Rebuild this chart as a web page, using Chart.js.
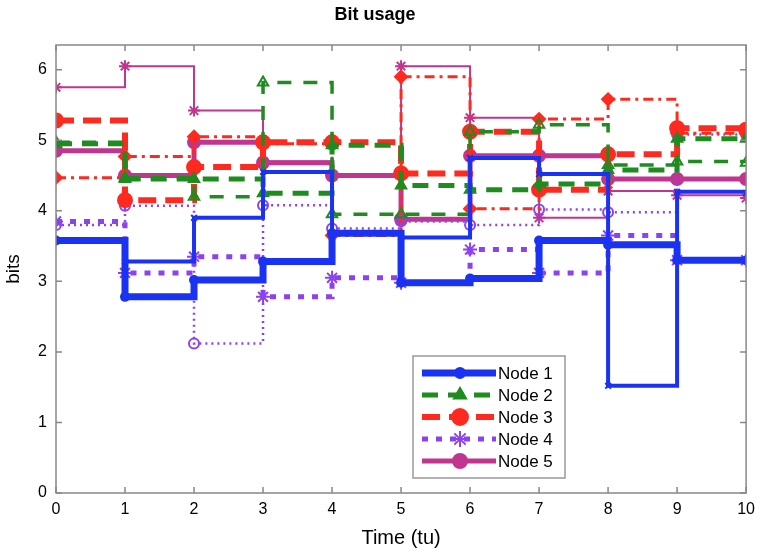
<!DOCTYPE html>
<html lang="en">
<head>
    <meta charset="UTF-8">
    <title>Bit usage</title>
    <script src="https://cdn.jsdelivr.net/npm/chart.js"></script>
    <style>
        body {
            margin: 0;
            padding: 0;
            background-color: #fff;
        }
        .chart-box {
            width: 762px;
            height: 554px;
        }
    </style>
</head>
<body>
    <div class="chart-box">
        <canvas id="bits-chart"></canvas>
    </div>

    <script>
        // time steps (tu) and tick values
        var timeSteps = [0, 1, 2, 3, 4, 5, 6, 7, 8, 9, 10];
        var yTicks = [0, 1, 2, 3, 4, 5, 6];

        // bits per node, thick line and thin line for each node
        var node1Main = [3.58, 2.78, 3.02, 3.28, 3.68, 2.98, 3.04, 3.58, 3.52, 3.30, 3.30];
        var node1Alt  = [3.58, 3.28, 3.90, 4.55, 3.68, 3.62, 4.75, 4.52, 1.52, 4.27, 4.25];
        var node2Main = [4.95, 4.45, 4.45, 4.25, 4.93, 4.36, 4.30, 4.38, 4.58, 5.02, 5.02];
        var node2Alt  = [4.97, 4.47, 4.20, 5.82, 3.95, 3.95, 5.12, 5.22, 4.65, 4.70, 4.68];
        var node3Main = [5.28, 4.15, 4.62, 4.97, 4.97, 4.53, 5.12, 4.30, 4.80, 5.17, 5.15];
        var node3Alt  = [4.47, 4.77, 5.05, 4.95, 3.65, 5.90, 4.03, 5.30, 5.58, 5.10, 5.10];
        var node4Main = [3.85, 3.12, 3.35, 2.78, 3.05, 2.98, 3.45, 3.12, 3.65, 3.30, 3.30];
        var node4Alt  = [3.80, 4.07, 2.12, 4.08, 3.75, 3.85, 3.80, 4.02, 3.98, 5.08, 5.08];
        var node5Main = [4.85, 4.50, 4.97, 4.68, 4.50, 3.88, 4.78, 4.78, 4.45, 4.45, 4.45];
        var node5Alt  = [5.75, 6.05, 5.42, 4.70, 4.50, 6.05, 5.32, 3.90, 4.28, 4.22, 4.18];

        var blue = '#1a33f2';
        var green = '#1e8c1e';
        var red = '#ff2a1f';
        var purple = '#8c42ee';
        var magenta = '#c0368f';

        var fontFamily = 'Arial, "Liberation Sans", sans-serif';

        function toPoints(values) {
            return values.map(function(v, i) { return {x: timeSteps[i], y: v}; });
        }

        function stairs(label, values, color, width, dash, marker, radius, fill, legend) {
            return {
                label: label,
                data: toPoints(values),
                stepped: 'before',
                borderColor: color,
                backgroundColor: fill ? color : 'rgba(255,255,255,0)',
                borderWidth: width,
                borderDash: dash,
                pointStyle: marker,
                pointRadius: radius,
                pointBorderWidth: 2,
                pointBorderColor: color,
                pointBackgroundColor: fill ? color : 'rgba(255,255,255,0)',
                fill: false,
                inLegend: legend
            };
        }

        var datasets = [
            stairs('Node 1', node1Main, blue, 7, [], 'circle', 4, true, true),
            stairs('Node 1 b', node1Alt, blue, 4, [], 'crossRot', 4, false, false),
            stairs('Node 2', node2Main, green, 5, [16, 10], 'triangle', 6, true, true),
            stairs('Node 2 b', node2Alt, green, 3.5, [14, 12], 'triangle', 6, false, false),
            stairs('Node 3', node3Main, red, 6, [18, 9], 'circle', 7, true, true),
            stairs('Node 3 b', node3Alt, red, 3, [10, 5, 3, 5], 'rectRot', 6, true, false),
            stairs('Node 4', node4Main, purple, 5, [6, 8], 'star', 7, false, true),
            stairs('Node 4 b', node4Alt, purple, 2.5, [2, 4], 'circle', 5, false, false),
            stairs('Node 5', node5Main, magenta, 5, [], 'circle', 6, true, true),
            stairs('Node 5 b', node5Alt, magenta, 2, [], 'star', 6, false, false)
        ];

        // box, inward ticks (MATLAB look) and legend inside the plot
        var matlabFrame = {
            id: 'matlabFrame',
            afterDatasetsDraw: function(chart) {
                var ctx = chart.ctx;
                var area = chart.chartArea;
                var xs = chart.scales.x, ys = chart.scales.y;
                ctx.save();
                ctx.strokeStyle = '#888';
                ctx.lineWidth = 1.5;
                ctx.strokeRect(area.left, area.top, area.right - area.left, area.bottom - area.top);
                ctx.beginPath();
                timeSteps.forEach(function(v) {
                    var px = xs.getPixelForValue(v);
                    ctx.moveTo(px, area.bottom); ctx.lineTo(px, area.bottom - 6);
                    ctx.moveTo(px, area.top); ctx.lineTo(px, area.top + 6);
                });
                yTicks.forEach(function(v) {
                    var py = ys.getPixelForValue(v);
                    ctx.moveTo(area.left, py); ctx.lineTo(area.left + 6, py);
                    ctx.moveTo(area.right, py); ctx.lineTo(area.right - 6, py);
                });
                ctx.stroke();

                // legend box
                var bx = 413, by = 356, bw = 152, bh = 122;
                ctx.fillStyle = '#fff';
                ctx.fillRect(bx, by, bw, bh);
                ctx.strokeStyle = '#999';
                ctx.lineWidth = 1.5;
                ctx.strokeRect(bx, by, bw, bh);
                var rowY = by + 17;
                ctx.font = '17px ' + fontFamily;
                ctx.textBaseline = 'middle';
                chart.data.datasets.forEach(function(ds) {
                    if (!ds.inLegend) return;
                    ctx.save();
                    ctx.strokeStyle = ds.borderColor;
                    ctx.lineWidth = ds.borderWidth;
                    ctx.setLineDash(ds.borderDash);
                    ctx.beginPath();
                    ctx.moveTo(bx + 9, rowY);
                    ctx.lineTo(bx + 83, rowY);
                    ctx.stroke();
                    ctx.setLineDash([]);
                    ctx.fillStyle = ds.pointBackgroundColor;
                    ctx.strokeStyle = ds.pointBorderColor;
                    ctx.lineWidth = 2;
                    Chart.helpers.drawPoint(ctx, {
                        pointStyle: ds.pointStyle,
                        radius: ds.pointRadius + 1,
                        rotation: 0,
                        borderWidth: 2
                    }, bx + 47, rowY);
                    ctx.restore();
                    ctx.fillStyle = '#000';
                    ctx.fillText(ds.label, bx + 85, rowY + 1);
                    rowY += 22;
                });
                ctx.restore();
            }
        };

        var ctx = document.getElementById('bits-chart').getContext('2d');
        new Chart(ctx, {
            type: 'line',
            data: { datasets: datasets },
            options: {
                responsive: true,
                maintainAspectRatio: false,
                animation: false,
                layout: { padding: { left: 0, right: 12, top: 0, bottom: 0 } },
                plugins: {
                    legend: { display: false },
                    tooltip: { enabled: false },
                    title: {
                        display: true,
                        text: 'Bit usage',
                        color: '#000',
                        font: { family: fontFamily, size: 18, weight: 'bold' },
                        padding: { top: 4, bottom: 19.4 }
                    }
                },
                scales: {
                    x: {
                        type: 'linear',
                        min: 0,
                        max: 10,
                        grid: { display: false, drawTicks: false },
                        border: { display: false },
                        ticks: {
                            stepSize: 1,
                            color: '#000',
                            padding: 7,
                            maxRotation: 0,
                            font: { family: fontFamily, size: 16 }
                        },
                        title: {
                            display: true,
                            text: 'Time (tu)',
                            color: '#000',
                            padding: { top: 0, bottom: 4 },
                            font: { family: fontFamily, size: 20 }
                        },
                        afterFit: function(scale) { scale.height = 61; }
                    },
                    y: {
                        min: 0,
                        max: 6.35,
                        grid: { display: false, drawTicks: false },
                        border: { display: false },
                        afterBuildTicks: function(scale) {
                            scale.ticks = yTicks.map(function(v) { return {value: v}; });
                        },
                        ticks: {
                            color: '#000',
                            padding: 9,
                            font: { family: fontFamily, size: 16 }
                        },
                        title: {
                            display: true,
                            text: 'bits',
                            color: '#000',
                            padding: { top: 2, bottom: 0 },
                            font: { family: fontFamily, size: 19 }
                        },
                        afterFit: function(scale) { scale.width = 56; }
                    }
                }
            },
            plugins: [matlabFrame]
        });
    </script>
</body>
</html>
